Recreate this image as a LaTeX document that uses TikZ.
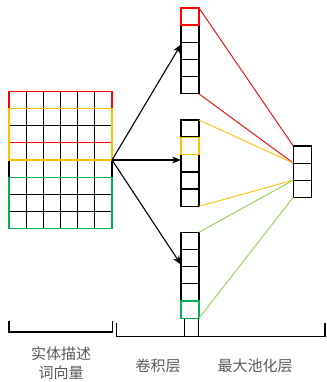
\documentclass[tikz,border=0pt]{standalone}
\usepackage{fontspec}
\newfontfamily\cjk{Noto Sans CJK SC}
\usetikzlibrary{arrows.meta,calc}
\definecolor{cred}{HTML}{FF0000}
\definecolor{cyel}{HTML}{FFC000}
\definecolor{cgrn}{HTML}{00B050}
\definecolor{clgrn}{HTML}{92D050}
\definecolor{ctxt}{HTML}{595959}
\tikzset{
  cell/.style={draw=black,line width=1.2pt,minimum width=#1,minimum height=17.1pt,inner sep=0pt,outer sep=0pt,anchor=north west},
  cell/.default=18pt,
  gcell/.style={cell=17.17pt},
  hl/.style={line width=1.2pt},
  arr/.style={line width=1.1pt,-{Stealth[length=9pt,width=7pt]}},
  link/.style={line width=0.9pt},
  brk/.style={line width=1.2pt},
  lab/.style={text=ctxt,font=\cjk\fontsize{15pt}{19pt}\selectfont,align=center,inner sep=0pt}
}
\begin{document}
\begin{tikzpicture}[x=1pt,y=-1pt]
\useasboundingbox (0,0) rectangle (326,382);
% input grid 8x6
\foreach \r in {1,...,8}{
  \foreach \c in {1,...,6}{
    \node[gcell] (g-\r-\c) at ({9+(\c-1)*17.17},{91.6+(\r-1)*17.1}) {};
  }
}
\draw[hl,cred] (g-1-1.north west) rectangle (g-3-6.south east);
\draw[hl,cyel] (g-2-1.north west) rectangle (g-4-6.south east);
\draw[hl,cgrn] (g-6-1.north west) rectangle (g-8-6.south east);
% conv columns
\foreach \i in {1,...,5}{
  \node[cell] (a\i) at (181,{8+(\i-1)*17.2}) {};
  \node[cell] (b\i) at (181,{120+(\i-1)*17.3}) {};
  \node[cell] (c\i) at (181,{232.2+(\i-1)*17.2}) {};
}
\draw[hl,cred] (a1.north west) rectangle (a1.south east);
\draw[hl,cyel] (b2.north west) rectangle (b2.south east);
\draw[hl,cgrn] (c5.north west) rectangle (c5.south east);
% pool column
\foreach \i in {1,2,3}{
  \node[cell] (p\i) at (293.3,{146+(\i-1)*17.1}) {};
}
% arrows
\coordinate (src) at (g-4-6.south east);
\draw[arr] (src) -- ([yshift=-2pt]a3.north west);
\draw[arr] (src) -- (src -| b3.west);
\draw[arr] (src) -- ([yshift=2pt]c3.north west);
% links to pool
\draw[link,cred] (a1.north east) -- (p1.north west);
\draw[link,cred] (a5.south east) -- (p1.south west);
\draw[link,cyel] (b1.north east) -- (p2.north west);
\draw[link,cyel] (b5.south east) -- (p2.south west);
\draw[link,clgrn] (c1.north east) -- (p3.north west);
\draw[link,clgrn] (c5.south east) -- (p3.south west);
% brackets
\coordinate (l1) at (9,320.5);
\coordinate (l2) at (112.5,320.5);
\draw[brk] (l1) -- ++(0,11.5) -| (l2);
\coordinate (r1) at (116.7,323);
\coordinate (r2) at (325,323);
\draw[brk] (r1) -- ++(0,13.5) -| (r2);
\coordinate (t1) at (184.3,319);
\coordinate (t2) at (198.3,319);
\draw[brk] (t1) -- (t1 |- 0,336.5);
\draw[brk] (t2) -- (t2 |- 0,336.5);
% labels
\node[lab] (L1) at (61,354) {实体描述};
\node[lab] (L2) at (61,373) {词向量};
\node[lab] (L3) at (158,366) {卷积层};
\node[lab] (L4) at (255,366) {最大池化层};
\end{tikzpicture}
\end{document}
